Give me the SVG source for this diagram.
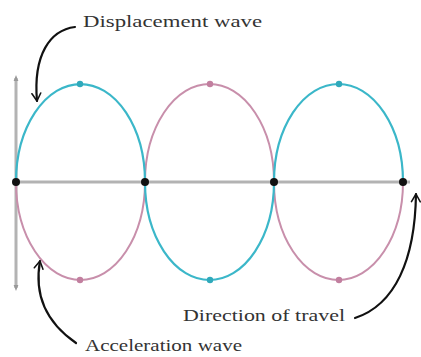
<svg xmlns="http://www.w3.org/2000/svg" width="421" height="357" viewBox="0 0 421 357">
<defs>
<style>
.ax{stroke:#b3b3b3;stroke-width:3;fill:none}
.cy{stroke:#3bb7c9;stroke-width:2.2;fill:none}
.pk{stroke:#c88fab;stroke-width:2;fill:none}
.dcy{fill:#2fa9bb}
.dpk{fill:#c27f9f}
.dk{fill:#111}
.call{stroke:#111;stroke-width:2.2;fill:none;stroke-linecap:round;stroke-linejoin:round}
.lbl{font-family:"Liberation Serif","DejaVu Serif",serif;font-size:17px;fill:#333}
</style>
<marker id="ah" viewBox="0 0 10 10" refX="8" refY="5" markerWidth="11" markerHeight="11" orient="auto" markerUnits="userSpaceOnUse">
<path d="M1 1 L8 5 L1 9" fill="none" stroke="#111" stroke-width="1.4" stroke-linecap="round" stroke-linejoin="round"/>
</marker>
<marker id="ga" viewBox="0 0 10 10" refX="5" refY="5" markerWidth="6" markerHeight="6" orient="auto" markerUnits="userSpaceOnUse">
<path d="M0 1 L10 5 L0 9 Z" fill="#999"/>
</marker>
</defs>
<rect width="421" height="357" fill="#fff"/>
<g id="axes">
<line class="ax" x1="16" y1="182" x2="410" y2="182"/>
<line class="ax" x1="16" y1="182" x2="16" y2="78" marker-end="url(#ga)"/>
<line class="ax" x1="16" y1="182" x2="16" y2="288" marker-end="url(#ga)"/>
</g>
<g id="acceleration-wave">
<path class="pk" d="M16 182 A64.5 98 0 0 0 145 182 A64.5 98 0 0 1 274 182 A64.5 98 0 0 0 403 182"/>
<circle class="dpk" cx="80" cy="280" r="3.2"/>
<circle class="dpk" cx="210" cy="84" r="3.2"/>
<circle class="dpk" cx="339" cy="280" r="3.2"/>
</g>
<g id="displacement-wave">
<path class="cy" d="M16 182 A64.5 98 0 0 1 145 182 A64.5 98 0 0 0 274 182 A64.5 98 0 0 1 403 182"/>
<circle class="dcy" cx="80" cy="84" r="3.2"/>
<circle class="dcy" cx="210" cy="280" r="3.2"/>
<circle class="dcy" cx="339" cy="84" r="3.2"/>
</g>
<g id="zero-points">
<circle class="dk" cx="16" cy="182" r="4"/>
<circle class="dk" cx="145" cy="182" r="4"/>
<circle class="dk" cx="274" cy="182" r="4"/>
<circle class="dk" cx="403" cy="182" r="4"/>
</g>
<g id="connectors">
<path class="call" d="M75 27 C50 30 33 55 37 101" marker-end="url(#ah)"/>
<path class="call" d="M76 343 C50 325 33 300 40 261" marker-end="url(#ah)"/>
<path class="call" d="M355 318 C395 305 415 260 416 194" marker-end="url(#ah)"/>
</g>
<g id="label-displacement"><text class="lbl" x="83" y="27" textLength="179" lengthAdjust="spacingAndGlyphs">Displacement wave</text></g>
<g id="label-acceleration"><text class="lbl" x="85" y="351" textLength="157" lengthAdjust="spacingAndGlyphs">Acceleration wave</text></g>
<g id="label-direction"><text class="lbl" x="183" y="321" textLength="162" lengthAdjust="spacingAndGlyphs">Direction of travel</text></g>
</svg>
